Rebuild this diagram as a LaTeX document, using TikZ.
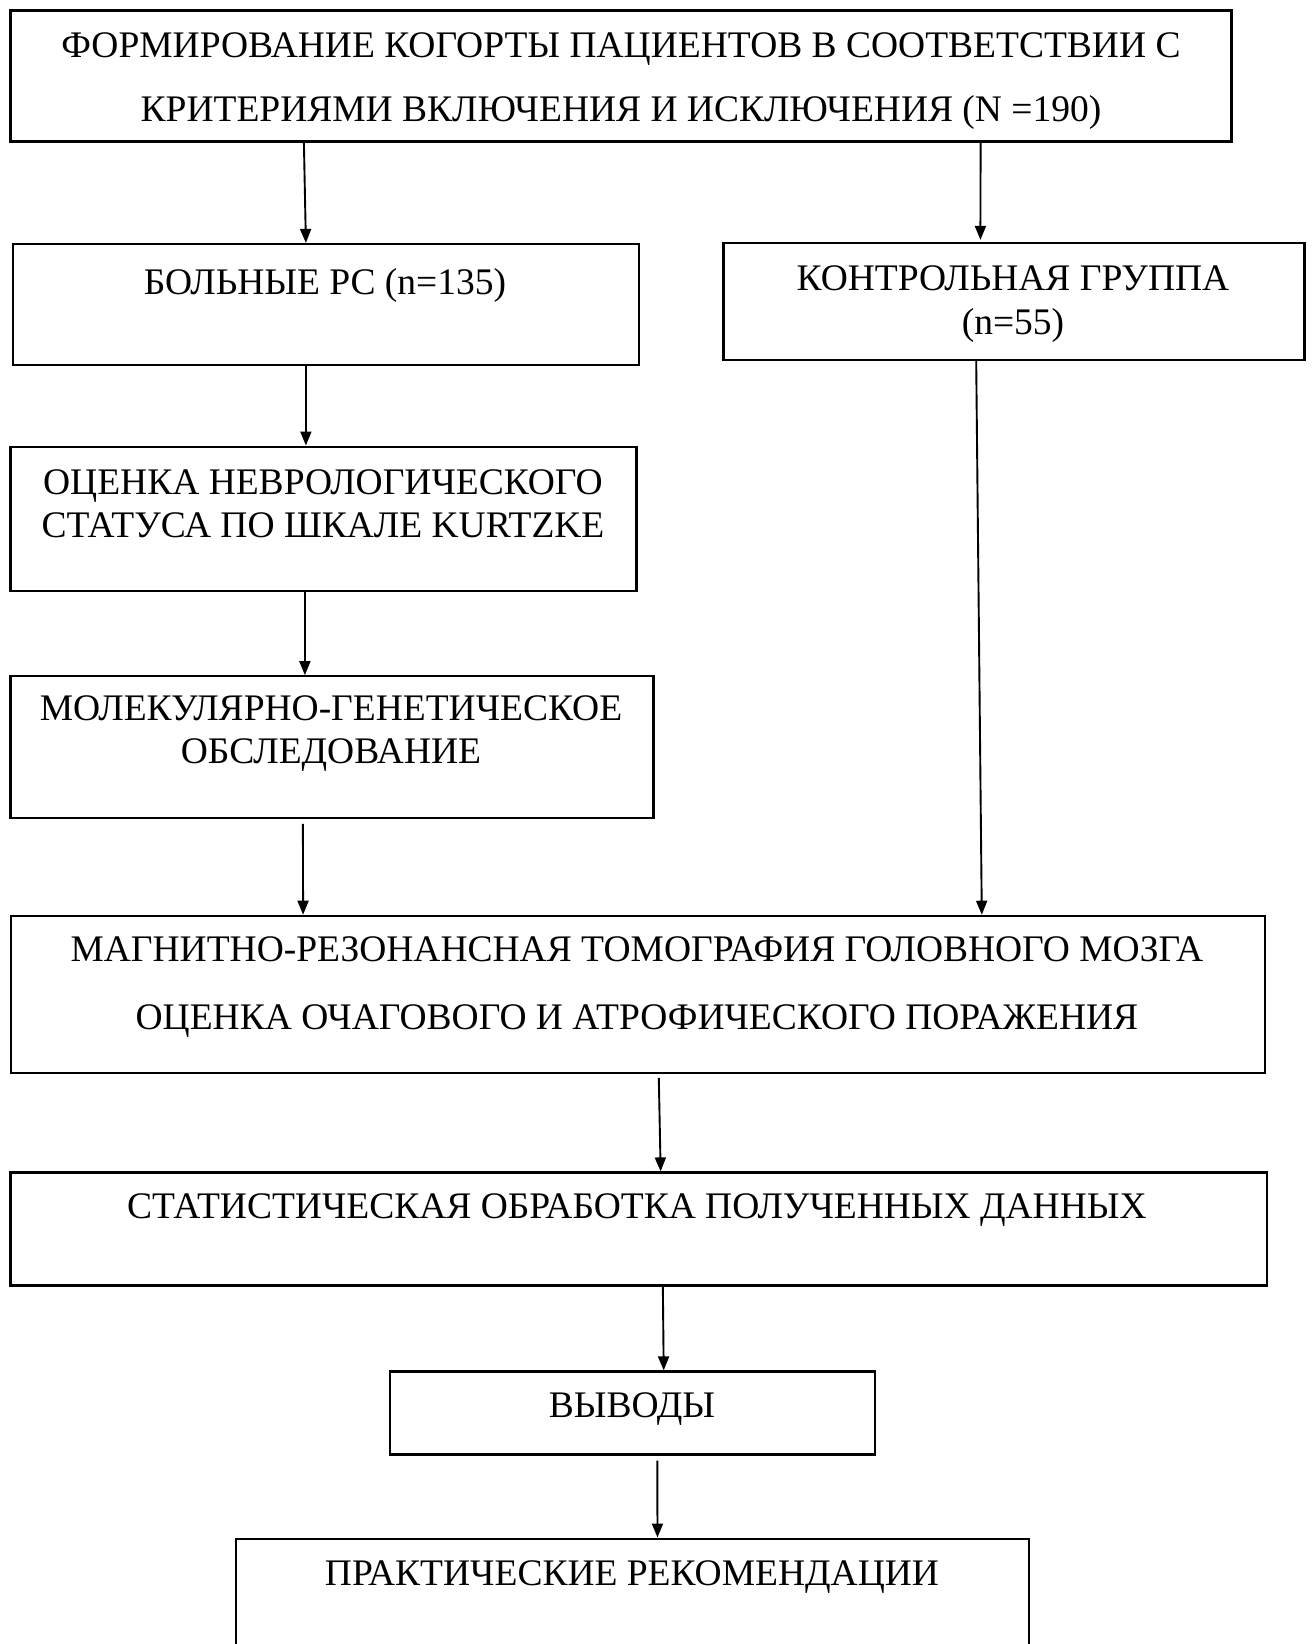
\documentclass[tikz,border=0pt]{standalone}
\usepackage{fontspec}
\setmainfont{Liberation Serif}
\usetikzlibrary{arrows.meta}

\begin{document}
\begin{tikzpicture}[x=1pt,y=-1pt,>={Triangle[length=14pt,width=11pt]}]

  \tikzstyle{box}=[rectangle,draw=black,line width=2.2pt,inner sep=0pt]
  \tikzstyle{txt}=[align=center,inner sep=0pt,font=\fontsize{37.5}{43}\selectfont]
  \tikzstyle{flow}=[->,line width=1.9pt]

  \useasboundingbox (0,0) rectangle (1312,1644);
  \clip (0,0) rectangle (1312,1644);
  \fill[white] (0,0) rectangle (1312,1644);

  % boxes
  \node [box,minimum width=1221pt,minimum height=131pt] (top) at (621,76) {};
  \node [box,minimum width=626pt,minimum height=121pt] (ms) at (325.6,304.5) {};
  \node [box,minimum width=581pt,minimum height=117pt] (ctrl) at (1014,301.5) {};
  \node [box,minimum width=626pt,minimum height=144pt] (edss) at (323.5,518.6) {};
  \node [box,minimum width=643pt,minimum height=141.5pt] (gen) at (332,747) {};
  \node [box,minimum width=1254pt,minimum height=157pt] (mri) at (637.7,994.3) {};
  \node [box,minimum width=1256.5pt,minimum height=113pt] (stat) at (638.7,1229) {};
  \node [box,minimum width=485pt,minimum height=83pt] (concl) at (632.3,1413) {};
  \node [box,minimum width=793pt,minimum height=200pt] (recs) at (632.5,1638.6) {};

  % texts
  \node [txt,font=\fontsize{37.5}{64}\selectfont] (ttop) at (621,81) {ФОРМИРОВАНИЕ КОГОРТЫ ПАЦИЕНТОВ В СООТВЕТСТВИИ С\\КРИТЕРИЯМИ ВКЛЮЧЕНИЯ И ИСКЛЮЧЕНИЯ (N =190)};
  \node [txt] (tms) at (325,285) {БОЛЬНЫЕ РС (n=135)};
  \node [txt,font=\fontsize{37.5}{44}\selectfont] (tctrl) at (1013,304) {КОНТРОЛЬНАЯ ГРУППА\\(n=55)};
  \node [txt] (tedss) at (323,504) {ОЦЕНКА НЕВРОЛОГИЧЕСКОГО\\СТАТУСА ПО ШКАЛЕ KURTZKE};
  \node [txt] (tgen) at (331,734) {МОЛЕКУЛЯРНО-ГЕНЕТИЧЕСКОЕ\\ОБСЛЕДОВАНИЕ};
  \node [txt,font=\fontsize{37.5}{68}\selectfont] (tmri) at (637,987) {МАГНИТНО-РЕЗОНАНСНАЯ ТОМОГРАФИЯ ГОЛОВНОГО МОЗГА\\ОЦЕНКА ОЧАГОВОГО И АТРОФИЧЕСКОГО ПОРАЖЕНИЯ};
  \node [txt] (tstat) at (637,1210) {СТАТИСТИЧЕСКАЯ ОБРАБОТКА ПОЛУЧЕННЫХ ДАННЫХ};
  \node [txt] (tconcl) at (632,1409) {ВЫВОДЫ};
  \node [txt] (trecs) at (632,1577) {ПРАКТИЧЕСКИЕ РЕКОМЕНДАЦИИ};

  % arrows
  \draw [flow] ([xshift=294.5pt]top.south west) -- ([xshift=294.4pt]ms.north west);
  \draw [flow] ([xshift=971.2pt]top.south west) -- ([xshift=258pt,yshift=2pt]ctrl.north west);
  \draw [flow] ([xshift=294.4pt]ms.south west) -- ([xshift=296.5pt]edss.north west);
  \draw [flow] ([xshift=253.8pt]ctrl.south west) -- ([xshift=972.2pt]mri.north west);
  \draw [flow] ([xshift=295.5pt]edss.south west) -- ([xshift=295.5pt]gen.north west);
  \draw [flow] ([xshift=293.5pt,yshift=-5pt]gen.south west) -- ([xshift=293.5pt]mri.north west);
  \draw [flow] ([xshift=649.2pt,yshift=-4pt]mri.south west) -- ([xshift=651.3pt]stat.north west);
  \draw [flow] ([xshift=653.5pt]stat.south west) -- ([xshift=275pt]concl.north west);
  \draw [flow] ([xshift=268.6pt,yshift=-5pt]concl.south west) -- ([xshift=422.6pt]recs.north west);

\end{tikzpicture}
\end{document}
